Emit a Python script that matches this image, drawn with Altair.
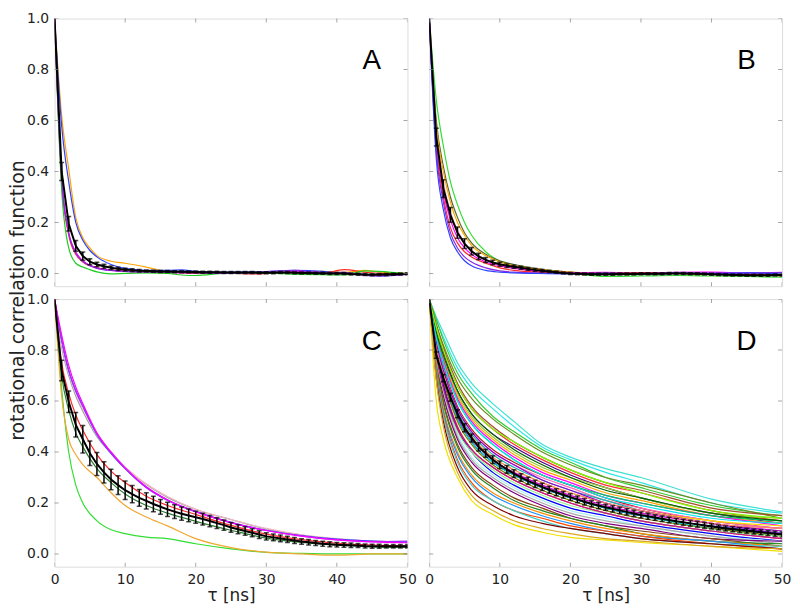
import altair as alt
import pandas as pd

# ---------------- data ----------------
TAU = list(range(51))
XTICKS = [0, 10, 20, 30, 40, 50]
YTICKS = [0.0, 0.2, 0.4, 0.6, 0.8, 1.0]

# Panel A
KNOTS_A = [0, 1, 2, 3, 4, 5, 6, 8, 10, 13, 16, 18, 20, 24, 28, 32, 34, 38, 41, 44, 46, 50]
CURVES_A = [
    ("orange", "#ffa500", [1, .62, .41, .22, .14, .10, .07, .048, .04, .025, .008, .006, .004, .003, .002, .004, .003, .008, .004, .012, .006, .0]),
    ("blue", "#3040ff", [1, .58, .36, .20, .13, .09, .065, .035, .02, .012, .012, .014, .008, .005, .006, .01, .012, .008, .0, -.005, -.01, -.003]),
    ("red", "#ff2a2a", [1, .36, .15, .075, .045, .03, .022, .013, .01, .006, .004, .003, .0, .002, -.002, .003, .004, .0, .015, .005, .0, -.002]),
    ("magenta", "#ff00ff", [1, .38, .16, .085, .05, .032, .022, .012, .008, .005, .003, .002, .004, .002, .0, .004, .008, .003, .0, -.005, -.008, -.003]),
    ("green", "#22cc22", [1, .33, .10, .04, .025, .015, .006, -.002, .0, .002, .0, -.006, -.008, .0, .002, .0, -.004, -.005, -.006, .01, .008, -.002]),
    ("purple", "#8a2be2", [1, .37, .16, .08, .048, .03, .02, .012, .008, .006, .006, .004, .002, .0, .003, .01, .012, .002, .004, -.008, -.01, -.004]),
]
MEAN_A = [1.0, 0.40, 0.195, 0.108, 0.068, 0.046, 0.035, 0.028, 0.022, 0.018,
          0.015, 0.013, 0.011, 0.010, 0.009, 0.008, 0.008, 0.007, 0.007, 0.006,
          0.006, 0.005, 0.005, 0.005, 0.004, 0.004, 0.004, 0.004, 0.004, 0.003,
          0.003, 0.003, 0.004, 0.004, 0.003, 0.002, 0.002, 0.001, 0.001, 0.000,
          0.000, 0.000, -0.002, -0.003, -0.004, -0.005, -0.004, -0.004, -0.003, -0.002, -0.001]
ERR_A = [0, 0.035, 0.028, 0.021, 0.016, 0.012, 0.009, 0.008, 0.007, 0.006,
         0.005, 0.005, 0.005, 0.004, 0.004, 0.004, 0.004, 0.004, 0.004, 0.004,
         0.004, 0.004, 0.004, 0.004, 0.004, 0.004, 0.004, 0.004, 0.004, 0.004,
         0.004, 0.004, 0.004, 0.004, 0.004, 0.004, 0.004, 0.004, 0.004, 0.004,
         0.004, 0.004, 0.004, 0.004, 0.004, 0.004, 0.004, 0.004, 0.004, 0.004, 0.004]

# Panel B
KNOTS_B = [0, 1, 2, 3, 4, 5, 6, 8, 10, 12, 15, 20, 25, 30, 35, 40, 45, 50]
CURVES_B = [
    ("green", "#33dd33", [1, .68, .50, .36, .27, .20, .15, .085, .048, .03, .012, .0, -.012, -.01, -.008, -.01, -.012, -.015]),
    ("olive", "#556b2f", [1, .60, .42, .30, .22, .16, .12, .075, .05, .035, .02, .005, -.005, -.003, .0, -.002, -.005, -.01]),
    ("orange", "#ffa500", [1, .58, .40, .28, .20, .15, .11, .07, .045, .03, .018, .005, .0, .002, .0, -.003, -.006, -.008]),
    ("pink", "#ffb6c1", [1, .55, .36, .24, .17, .12, .09, .055, .035, .025, .012, .0, .0, .0, .0, .0, .0, .0]),
    ("magenta", "#ff00ff", [1, .52, .32, .21, .14, .10, .075, .045, .03, .02, .01, .003, .004, .002, .004, .005, .002, .004]),
    ("red", "#ff2a2a", [1, .50, .30, .18, .12, .085, .065, .04, .022, .012, .006, .0, .002, .003, .0, -.002, -.004, -.002]),
    ("purple", "#8a2be2", [1, .48, .28, .16, .10, .065, .045, .022, .01, .005, .002, .0, .002, .0, .003, .0, .002, .003]),
    ("blue", "#3040ff", [1, .45, .25, .14, .085, .05, .03, .012, .005, .002, .0, -.002, .0, -.002, .0, .0, .002, .0]),
]
MEAN_B = [1.0, 0.535, 0.333, 0.230, 0.160, 0.117, 0.087, 0.067, 0.053, 0.043,
          0.036, 0.030, 0.026, 0.022, 0.018, 0.014, 0.011, 0.008, 0.005, 0.002,
          0.000, -0.001, -0.002, -0.003, -0.003, -0.003, -0.003, -0.002, -0.002, -0.002,
          -0.001, -0.001, -0.001, -0.001, 0.000, 0.000, 0.000, -0.001, -0.001, -0.002,
          -0.003, -0.004, -0.005, -0.006, -0.006, -0.007, -0.007, -0.007, -0.007, -0.006, -0.006]
ERR_B = [0, 0.035, 0.035, 0.029, 0.022, 0.019, 0.015, 0.012, 0.010, 0.009,
         0.008, 0.007, 0.006, 0.006, 0.005, 0.005, 0.005, 0.004, 0.004, 0.004,
         0.004, 0.004, 0.004, 0.004, 0.004, 0.004, 0.004, 0.004, 0.004, 0.004,
         0.004, 0.004, 0.004, 0.004, 0.004, 0.004, 0.004, 0.004, 0.004, 0.004,
         0.004, 0.004, 0.004, 0.004, 0.004, 0.004, 0.004, 0.004, 0.004, 0.004, 0.004]

# Panel C
KNOTS_C = [0, 1, 2, 3, 4, 6, 8, 10, 13, 16, 20, 25, 30, 35, 40, 45, 50]
CURVES_C = [
    ("green", "#33dd33", [1, .65, .40, .27, .20, .13, .095, .08, .066, .06, .04, .02, .006, .002, .0, .0, .0]),
    ("orange", "#f0a830", [1, .62, .45, .39, .35, .30, .24, .19, .145, .11, .06, .025, .007, .0, -.005, .0, .0]),
    ("darkgreen", "#2e7d32", [1, .70, .565, .475, .42, .335, .28, .235, .19, .16, .128, .093, .062, .045, .034, .028, .026]),
    ("grey", "#a0a0a0", [1, .81, .70, .62, .56, .46, .395, .34, .272, .222, .175, .135, .098, .074, .058, .05, .045]),
    ("pink", "#f4b6c2", [1, .82, .71, .63, .57, .47, .40, .34, .275, .225, .175, .135, .1, .075, .06, .05, .048]),
    ("blue", "#3040ff", [1, .84, .72, .64, .58, .47, .395, .335, .262, .212, .167, .124, .093, .072, .058, .05, .046]),
    ("purple", "#9b30ff", [1, .84, .72, .64, .58, .47, .395, .335, .26, .21, .165, .122, .092, .07, .055, .048, .05]),
    ("magenta", "#ff00ff", [1, .86, .74, .655, .59, .475, .40, .338, .264, .213, .166, .123, .092, .07, .055, .047, .044]),
    ("red", "#ff2a2a", [1, .75, .63, .545, .485, .39, .325, .28, .226, .19, .155, .112, .078, .056, .042, .035, .032]),
]
MEAN_C = [1.0, 0.720, 0.597, 0.507, 0.450, 0.395, 0.353, 0.320, 0.292, 0.270,
          0.250, 0.235, 0.220, 0.208, 0.196, 0.185, 0.175, 0.166, 0.158, 0.151,
          0.144, 0.137, 0.129, 0.121, 0.113, 0.104, 0.097, 0.090, 0.083, 0.076,
          0.069, 0.065, 0.061, 0.057, 0.053, 0.049, 0.046, 0.043, 0.040, 0.038,
          0.036, 0.035, 0.034, 0.033, 0.031, 0.030, 0.030, 0.030, 0.030, 0.030, 0.030]
ERR_C = [0, 0.040, 0.042, 0.048, 0.054, 0.048, 0.045, 0.042, 0.040, 0.037,
         0.036, 0.034, 0.033, 0.032, 0.030, 0.029, 0.028, 0.027, 0.026, 0.025,
         0.024, 0.023, 0.022, 0.021, 0.020, 0.019, 0.018, 0.017, 0.016, 0.015,
         0.014, 0.013, 0.013, 0.012, 0.012, 0.011, 0.011, 0.010, 0.010, 0.010,
         0.009, 0.009, 0.009, 0.008, 0.008, 0.008, 0.008, 0.007, 0.007, 0.007, 0.007]

# Panel D
KNOTS_D = [0, 1, 2, 4, 6, 9, 12, 16, 20, 25, 30, 40, 50]
CURVES_D = [
    ("d01", "#40e0d0", [1, .93, .87, .75, .67, .59, .52, .43, .38, .335, .30, .215, .165]),
    ("d02", "#33e6e6", [1, .92, .85, .73, .65, .57, .50, .42, .37, .32, .28, .20, .16]),
    ("d03", "#33cc33", [1, .92, .84, .71, .63, .54, .48, .41, .36, .30, .26, .19, .15]),
    ("d04", "#6b8e23", [1, .90, .82, .69, .61, .53, .47, .40, .35, .30, .27, .20, .14]),
    ("d05", "#a0522d", [1, .90, .81, .67, .58, .50, .44, .38, .33, .28, .25, .18, .15]),
    ("d06", "#ff3030", [1, .89, .80, .66, .57, .49, .43, .37, .32, .27, .24, .17, .13]),
    ("d07", "#4b0082", [1, .88, .79, .64, .55, .47, .42, .36, .31, .26, .22, .16, .12]),
    ("d08", "#9acd32", [1, .88, .78, .63, .54, .46, .40, .34, .30, .26, .22, .16, .14]),
    ("d09", "#ffa500", [1, .87, .77, .62, .53, .45, .39, .33, .29, .24, .21, .15, .12]),
    ("d10", "#ff00ff", [1, .86, .76, .61, .52, .44, .38, .32, .28, .23, .20, .15, .11]),
    ("d11", "#00cc66", [1, .86, .75, .60, .51, .43, .37, .31, .27, .23, .20, .15, .13]),
    ("d12", "#b22222", [1, .85, .74, .58, .49, .41, .36, .31, .27, .22, .18, .13, .10]),
    ("d13", "#ff69b4", [1, .84, .73, .57, .48, .40, .35, .30, .26, .21, .18, .13, .10]),
    ("d14", "#20b2aa", [1, .84, .72, .56, .47, .39, .34, .29, .25, .21, .17, .12, .09]),
    ("d15", "#ffd700", [1, .83, .71, .55, .46, .38, .33, .28, .24, .20, .17, .13, .11]),
    ("d16", "#e000e0", [1, .80, .69, .54, .45, .37, .32, .27, .23, .19, .16, .12, .09]),
    ("d17", "#000080", [1, .79, .68, .53, .44, .36, .31, .26, .22, .18, .15, .11, .08]),
    ("d18", "#00ced1", [1, .82, .70, .53, .44, .36, .31, .26, .22, .18, .15, .10, .08]),
    ("d19", "#808000", [1, .81, .69, .52, .43, .35, .30, .25, .21, .17, .14, .10, .07]),
    ("d20", "#dc143c", [1, .80, .67, .50, .41, .34, .29, .24, .20, .16, .13, .09, .06]),
    ("d21", "#0000ff", [1, .79, .66, .49, .40, .32, .27, .22, .18, .15, .12, .08, .05]),
    ("d22", "#afeeee", [1, .78, .64, .47, .38, .31, .26, .21, .17, .14, .11, .07, .05]),
    ("d23", "#a9a9a9", [1, .77, .63, .46, .37, .30, .25, .20, .16, .13, .11, .07, .04]),
    ("d24", "#800080", [1, .76, .62, .45, .36, .29, .24, .19, .15, .12, .10, .06, .05]),
    ("d25", "#8b4513", [1, .75, .60, .43, .34, .27, .22, .18, .14, .11, .09, .06, .03]),
    ("d26", "#228b22", [1, .74, .59, .42, .33, .26, .21, .17, .14, .11, .08, .05, .04]),
    ("d27", "#ff8c00", [1, .73, .57, .40, .31, .24, .20, .16, .13, .10, .08, .05, .03]),
    ("d28", "#1e90ff", [1, .72, .56, .39, .30, .23, .19, .15, .12, .09, .07, .05, .02]),
    ("d29", "#ff4500", [1, .71, .55, .37, .28, .21, .17, .14, .11, .09, .07, .04, .02]),
    ("d30", "#48d1cc", [1, .70, .54, .36, .27, .21, .17, .13, .10, .08, .06, .04, .03]),
    ("d31", "#800000", [1, .69, .52, .34, .25, .19, .15, .12, .10, .08, .06, .04, .02]),
    ("d32", "#f0e000", [1, .60, .45, .30, .21, .155, .115, .085, .065, .055, .045, .03, .01]),
    ("d33", "#daa520", [1, .68, .50, .32, .23, .17, .13, .10, .08, .06, .05, .03, .02]),
    ("d34", "#90ee90", [1, .77, .64, .48, .40, .33, .28, .23, .19, .16, .13, .09, .07]),
    ("d35", "#9400d3", [1, .83, .72, .57, .48, .40, .35, .29, .25, .20, .17, .12, .08]),
    ("d36", "#006400", [1, .87, .78, .64, .55, .47, .41, .35, .30, .25, .22, .16, .13]),
    ("d37", "#00e5ee", [1, .85, .75, .60, .51, .43, .37, .31, .27, .22, .19, .14, .12]),
    ("d38", "#fa8072", [1, .81, .70, .55, .46, .38, .33, .28, .24, .20, .17, .12, .10]),
    ("d39", "#7cfc00", [1, .89, .80, .66, .57, .49, .44, .38, .33, .28, .24, .17, .14]),
    ("d40", "#c71585", [1, .78, .65, .49, .41, .34, .29, .24, .20, .16, .13, .09, .06]),
]
MEAN_D = [1.0, 0.780, 0.690, 0.615, 0.550, 0.495, 0.455, 0.420, 0.395, 0.370,
          0.350, 0.332, 0.315, 0.300, 0.287, 0.275, 0.263, 0.252, 0.242, 0.232,
          0.223, 0.214, 0.205, 0.197, 0.190, 0.183, 0.177, 0.171, 0.165, 0.159,
          0.153, 0.148, 0.143, 0.138, 0.133, 0.128, 0.124, 0.120, 0.116, 0.112,
          0.108, 0.104, 0.100, 0.097, 0.094, 0.091, 0.088, 0.085, 0.082, 0.079, 0.076]
ERR_D = [0, 0.012, 0.014, 0.016, 0.016, 0.016, 0.016, 0.016, 0.016, 0.015,
         0.015, 0.015, 0.015, 0.015, 0.014, 0.014, 0.014, 0.014, 0.014, 0.013,
         0.013, 0.013, 0.013, 0.013, 0.013, 0.012, 0.012, 0.012, 0.012, 0.012,
         0.012, 0.012, 0.011, 0.011, 0.011, 0.011, 0.011, 0.011, 0.011, 0.011,
         0.010, 0.010, 0.010, 0.010, 0.010, 0.010, 0.010, 0.010, 0.010, 0.010, 0.010]

# ---------------- chart ----------------
W, H = 356, 270
FRAME = "#808080"
TXT = "#222222"
FONT = "DejaVu Sans"


def curves_df(knots, curves):
    rows = []
    for name, color, vals in curves:
        for t, v in zip(knots, vals):
            rows.append({"name": name, "color": color, "tau": t, "v": v})
    return pd.DataFrame(rows)


def mean_df(mean, err):
    return pd.DataFrame({"tau": TAU, "m": mean, "lo": [m - e for m, e in zip(mean, err)],
                         "hi": [m + e for m, e in zip(mean, err)]})


def panel(knots, curves, mean, err, letter, show_x, show_y, ytitle=False):
    xs = alt.Scale(domain=[0, 50], nice=False, zero=False)
    ys = alt.Scale(domain=[-0.05, 1.0], nice=False, zero=False)
    if show_x:
        xaxis = alt.Axis(values=XTICKS, format="d", ticks=False, domain=False, grid=False,
                         labelFontSize=14, labelPadding=6, labelFont=FONT, labelColor=TXT,
                         labelFlush=False, labelOverlap=False,
                         title="τ [ns]", titleFontSize=17, titleFont=FONT, titleFontWeight="normal",
                         titleColor=TXT, titlePadding=1)
    else:
        xaxis = None
    if show_y:
        kw = dict(values=YTICKS, format=".1f", ticks=False, domain=False, grid=False,
                  labelFontSize=14, labelPadding=6, labelFont=FONT, labelColor=TXT,
                  labelFlush=False, labelOverlap=False)
        if ytitle:
            kw.update(title="rotational correlation function", titleFontSize=19, titleFont=FONT,
                      titleFontWeight="normal", titleColor=TXT, titleX=-31, titleY=284,
                      titleAngle=270, titleBaseline="alphabetic", titleAlign="center")
        else:
            kw.update(title=None)
        yaxis = alt.Axis(**kw)
    else:
        yaxis = None

    X = lambda f: alt.X(f, scale=xs, axis=xaxis, title="τ [ns]" if show_x else None)
    Y = lambda f: alt.Y(f, scale=ys, axis=yaxis,
                        title="rotational correlation function" if ytitle else None)

    cdf = curves_df(knots, curves)
    mdf = mean_df(mean, err)
    edf = mdf[mdf["tau"] >= 1]
    caps = pd.concat([edf[["tau", "lo"]].rename(columns={"lo": "c"}),
                      edf[["tau", "hi"]].rename(columns={"hi": "c"})])

    lines = alt.Chart(cdf).mark_line(strokeWidth=1.2, interpolate="monotone", clip=True).encode(
        x=X("tau:Q"), y=Y("v:Q"), color=alt.Color("color:N", scale=None), detail="name:N")
    mline = alt.Chart(mdf).mark_line(color="black", strokeWidth=2, clip=True).encode(
        x=X("tau:Q"), y=Y("m:Q"))
    bars = alt.Chart(edf).mark_rule(color="black", strokeWidth=1.5, clip=True).encode(
        x=X("tau:Q"), y=Y("lo:Q"), y2="hi:Q")
    capm = alt.Chart(caps).mark_tick(color="black", orient="horizontal", size=5, thickness=1.5,
                                     clip=True).encode(x=X("tau:Q"), y=Y("c:Q"))

    # inward frame ticks: ticks centred on the frame edge, outer half clipped
    xt = pd.DataFrame({"t": XTICKS})
    yt = pd.DataFrame({"t": YTICKS})
    tb = alt.Chart(xt).mark_tick(color=FRAME, orient="vertical", size=8, thickness=1, clip=True).encode(
        x=X("t:Q"), y=alt.value(H))
    tt = alt.Chart(xt).mark_tick(color=FRAME, orient="vertical", size=8, thickness=1, clip=True).encode(
        x=X("t:Q"), y=alt.value(0))
    tl = alt.Chart(yt).mark_tick(color=FRAME, orient="horizontal", size=8, thickness=1, clip=True).encode(
        y=Y("t:Q"), x=alt.value(0))
    tr = alt.Chart(yt).mark_tick(color=FRAME, orient="horizontal", size=8, thickness=1, clip=True).encode(
        y=Y("t:Q"), x=alt.value(W))

    lab = alt.Chart(pd.DataFrame({"t": [letter]})).mark_text(
        fontSize=28, font="Liberation Sans", align="center", baseline="alphabetic",
        color="black").encode(text="t:N", x=alt.value(W - 36), y=alt.value(51))

    return alt.layer(lines, mline, bars, capm, tb, tt, tl, tr, lab).properties(width=W, height=H)


pA = panel(KNOTS_A, CURVES_A, MEAN_A, ERR_A, "A", False, True, ytitle=True)
pB = panel(KNOTS_B, CURVES_B, MEAN_B, ERR_B, "B", False, False)
pC = panel(KNOTS_C, CURVES_C, MEAN_C, ERR_C, "C", True, True)
pD = panel(KNOTS_D, CURVES_D, MEAN_D, ERR_D, "D", True, False)

chart = alt.concat(pA, pB, pC, pD, columns=2, spacing={"row": 13, "column": 22},
                   bounds="flush").properties(padding=0).configure_view(
    stroke=FRAME, strokeWidth=1.5).configure(background="white")

chart.save("out.html", embed_options={"renderer": "svg", "actions": False})
